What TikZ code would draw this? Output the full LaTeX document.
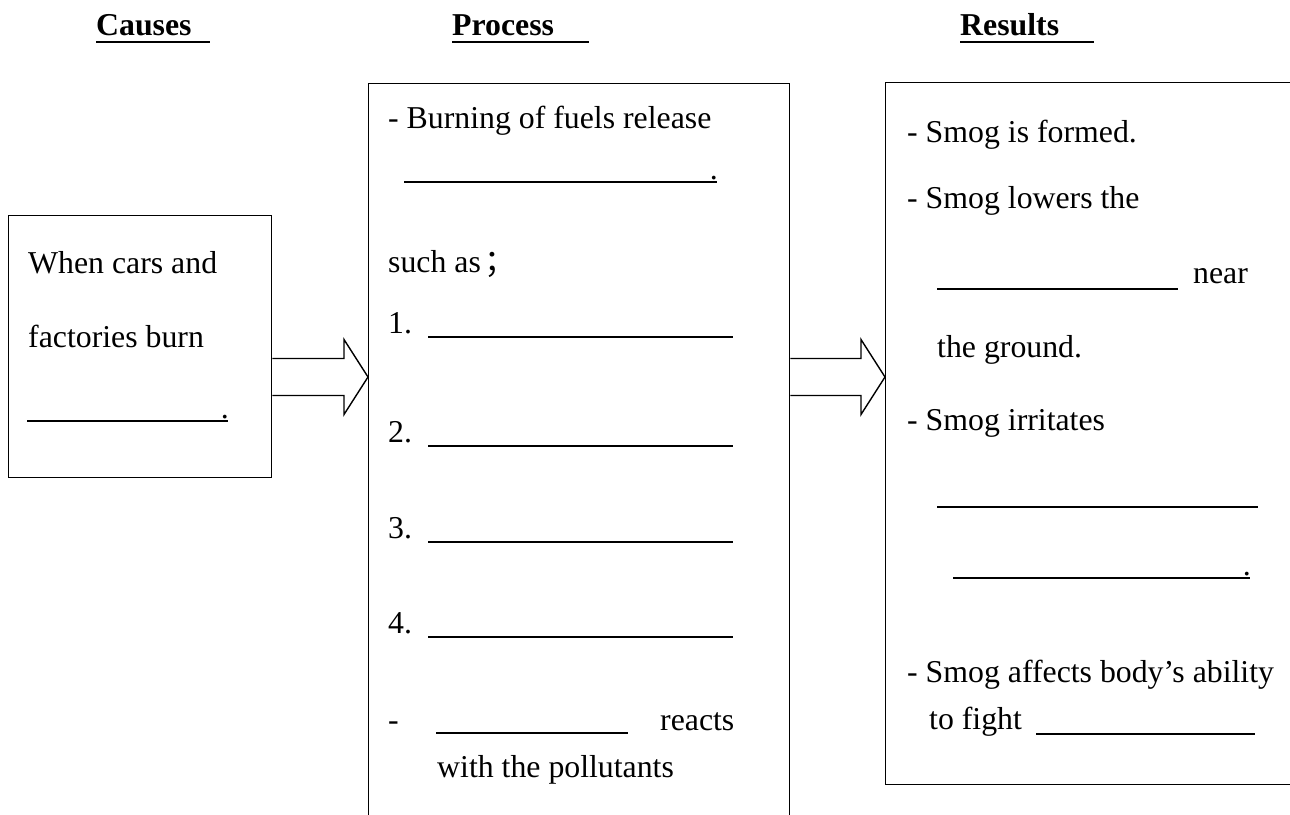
\documentclass[tikz,border=0pt]{standalone}
\usepackage{fontspec}
\setmainfont{Liberation Serif}
\newfontfamily\cjkfont{Noto Sans CJK SC}
\usetikzlibrary{calc}
\tikzset{
  box/.style={draw, line width=1.4pt, rectangle, inner sep=0pt, anchor=north west},
  txt/.style={anchor=base west, inner sep=0pt, font=\fontsize{31.8}{38}\selectfont},
  head/.style={anchor=base west, inner sep=0pt, font=\bfseries\fontsize{31.8}{38}\selectfont},
  blank/.style={line width=2.4pt},
  hollowarrow/.style={line width=1.4pt, line join=miter},
}
\begin{document}
\begin{tikzpicture}[x=1pt,y=-1pt]
\clip (0,0) rectangle (1290,814);
\useasboundingbox (0,0) rectangle (1290,814);
% headings
\node[head] (hcauses) at (96,35) {Causes};
\node[head] (hprocess) at (452,35) {Process};
\node[head] (hresults) at (960,35) {Results};
\draw[blank] (hcauses.base west) ++(0,7) -- ++(114,0);
\draw[blank] (hprocess.base west) ++(0,7) -- ++(137,0);
\draw[blank] (hresults.base west) ++(0,7) -- ++(134,0);
% boxes
\node[box, minimum width=263pt, minimum height=262pt] (causes) at (8,215) {};
\node[box, minimum width=421pt, minimum height=780pt] (process) at (368,83) {};
\node[box, minimum width=460pt, minimum height=702pt] (results) at (885,82) {};
% arrows
\coordinate (ay) at (0,377);
\path (causes.east |- ay) coordinate (s1) (process.west |- ay) coordinate (t1);
\path (process.east |- ay) coordinate (s2) (results.west |- ay) coordinate (t2);
\draw[hollowarrow] ($(s1)+(0,-18.5)$) -- ($(t1)+(-24,-18.5)$) -- ($(t1)+(-24,-37.5)$) -- (t1) -- ($(t1)+(-24,37.5)$) -- ($(t1)+(-24,18.5)$) -- ($(s1)+(0,18.5)$);
\draw[hollowarrow] ($(s2)+(0,-18.5)$) -- ($(t2)+(-24,-18.5)$) -- ($(t2)+(-24,-37.5)$) -- (t2) -- ($(t2)+(-24,37.5)$) -- ($(t2)+(-24,18.5)$) -- ($(s2)+(0,18.5)$);
% causes text
\node[txt] (c1) at (28,273) {When cars and};
\node[txt] (c2) at (28,347) {factories burn};
\draw[blank] (27,421) -- (228,421);
\node[txt, anchor=base east] (c3) at (229,418) {.};
% process text
\node[txt] (p1) at (388,128) {- Burning of fuels release};
\draw[blank] (404,182) -- (717,182);
\node[txt, anchor=base east] (p1d) at (718,179) {.};
\node[txt] (p2) at (388,272) {such as};
\node[txt] (p2s) at (484,272) {\cjkfont ；};
\node[txt] (n1) at (388,333) {1.};
\draw[blank] (428,337) -- (733,337);
\node[txt] (n2) at (388,442) {2.};
\draw[blank] (428,446) -- (733,446);
\node[txt] (n3) at (388,538) {3.};
\draw[blank] (428,542) -- (733,542);
\node[txt] (n4) at (388,633) {4.};
\draw[blank] (428,637) -- (733,637);
\node[txt] (p3) at (388,730) {-};
\draw[blank] (436,733) -- (628,733);
\node[txt] (p3r) at (660,730) {reacts};
\node[txt] (p4) at (437,777) {with the pollutants};
% results text
\node[txt] (r1) at (907,142) {- Smog is formed.};
\node[txt] (r2) at (907,208) {- Smog lowers the};
\draw[blank] (937,289) -- (1178,289);
\node[txt] (r3) at (1193,283) {near};
\node[txt] (r4) at (937,357) {the ground.};
\node[txt] (r5) at (907,430) {- Smog irritates};
\draw[blank] (937,507) -- (1258,507);
\draw[blank] (953,578) -- (1250,578);
\node[txt, anchor=base east] (r5d) at (1251,575) {.};
\node[txt] (r6) at (907,682) {- Smog affects body’s ability};
\node[txt] (r7) at (929,729) {to fight};
\draw[blank] (1036,734) -- (1255,734);
\end{tikzpicture}
\end{document}
